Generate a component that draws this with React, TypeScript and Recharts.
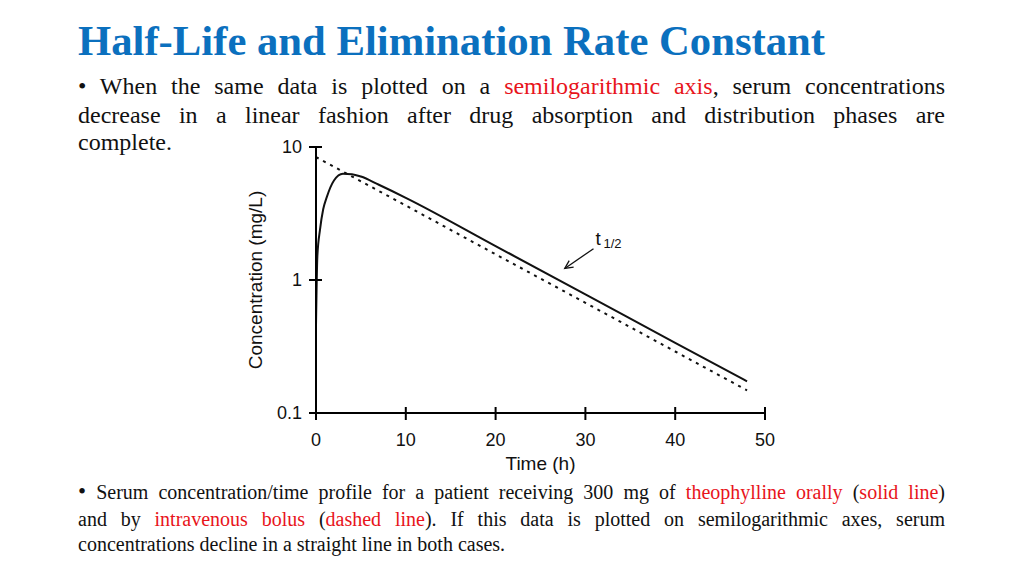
import { Line, LineChart, ReferenceLine, XAxis, YAxis } from "recharts"

// oral dose (solid line)
const oralTime = [0, 0.15, 0.45, 0.8, 1.2, 2, 3, 4, 5, 7, 10, 20, 30, 40, 48]
const oralConc = [0.45, 1.5, 2.4, 3.4, 4.2, 5.6, 6.3, 6.25, 6.0, 5.2, 4.15, 1.8, 0.78, 0.337, 0.173]

// iv bolus (dashed line)
const ivTime = [0, 10, 20, 30, 40, 48]
const ivConc = [8.4, 3.63, 1.56, 0.674, 0.29, 0.148]

const timeTicks = [0, 10, 20, 30, 40, 50]
const concTicks = [0.1, 1, 10]

// t1/2 arrow: tail -> tip, in data units
const arrowTail = { x: 30.9, y: 1.72 }
const arrowTip = { x: 27.7, y: 1.22 }

const oralData = oralTime.map((t, i) => ({ t, c: oralConc[i] }))
const ivData = ivTime.map((t, i) => ({ t, c: ivConc[i] }))

const SANS = "'Liberation Sans', Arial, Helvetica, sans-serif"
const SERIF = "'Liberation Serif', 'Times New Roman', serif"
const RED = "#E8141B"

const YTick = ({ x, y, payload }: any) => (
  <g>
    <line x1={x - 7} x2={x + 6} y1={y} y2={y} stroke="#000" strokeWidth={2} />
    <text x={x - 14} y={y} dy="0.36em" textAnchor="end" fontSize={18} fontFamily={SANS} fill="#111">
      {payload.value}
    </text>
  </g>
)

const XTick = ({ x, y, payload }: any) => (
  <g>
    <line x1={x} x2={x} y1={y - 6} y2={y + 7} stroke="#000" strokeWidth={2} />
    <text x={x} y={y + 27} dy="0.36em" textAnchor="middle" fontSize={18} fontFamily={SANS} fill="#111">
      {payload.value}
    </text>
  </g>
)

const Arrow = (props: any) => {
  const { x1, y1, x2, y2 } = props
  const a = Math.atan2(y2 - y1, x2 - x1)
  const len = 9
  const h1 = { x: x2 - len * Math.cos(a - 0.45), y: y2 - len * Math.sin(a - 0.45) }
  const h2 = { x: x2 - len * Math.cos(a + 0.45), y: y2 - len * Math.sin(a + 0.45) }
  return (
    <g>
      <line x1={x1} y1={y1} x2={x2} y2={y2} stroke="#111" strokeWidth={1.3} />
      <polyline points={`${h1.x},${h1.y} ${x2},${y2} ${h2.x},${h2.y}`} fill="none" stroke="#111" strokeWidth={1.3} />
      <text x={x1 + 2} y={y1 - 4} fontSize={19} fontFamily={SANS} fill="#111">
        t
      </text>
      <text x={x1 + 10} y={y1 - 1} fontSize={13} fontFamily={SANS} fill="#111">
        1/2
      </text>
    </g>
  )
}

const lineStyle = (top: number, size: number, lh: number, last = false): React.CSSProperties => ({
  position: "absolute",
  left: 78,
  top,
  width: 867,
  fontSize: size,
  lineHeight: `${lh}px`,
  whiteSpace: "nowrap",
  textAlign: last ? "left" : "justify",
  textAlignLast: last ? "left" : "justify",
})

export default function App() {
  return (
    <div
      style={{
        position: "absolute",
        left: 0,
        top: 0,
        width: 1024,
        height: 576,
        background: "#fff",
        overflow: "hidden",
        fontFamily: SERIF,
        color: "#111",
      }}
    >
      <div
        style={{
          position: "absolute",
          left: 78,
          top: 20,
          fontSize: 42.7,
          lineHeight: "42px",
          fontWeight: "bold",
          color: "#0B70BE",
          whiteSpace: "nowrap",
        }}
      >
        Half-Life and Elimination Rate Constant
      </div>

      <div style={lineStyle(72, 24, 29)}>
        • When the same data is plotted on a <span style={{ color: RED }}>semilogarithmic axis</span>, serum
        concentrations
      </div>
      <div style={lineStyle(101, 24, 29)}>
        decrease in a linear fashion after drug absorption and distribution phases are
      </div>
      <div style={lineStyle(128, 24, 29, true)}>complete.</div>

      <div style={{ position: "absolute", left: 200, top: 130 }}>
        <LineChart width={600} height={350} margin={{ top: 17, right: 35, left: 56, bottom: 37 }}>
          <XAxis
            type="number"
            dataKey="t"
            domain={[0, 50]}
            ticks={timeTicks}
            interval={0}
            height={30}
            tickSize={0}
            tickMargin={0}
            tickLine={false}
            axisLine={{ stroke: "#000", strokeWidth: 2 }}
            tick={<XTick />}
            label={{
              content: ({ viewBox }: any) => (
                <text
                  x={viewBox.x + viewBox.width / 2}
                  y={viewBox.y + 50}
                  dy="0.36em"
                  textAnchor="middle"
                  fontSize={19}
                  fontFamily={SANS}
                  fill="#111"
                >
                  Time (h)
                </text>
              ),
            }}
          />
          <YAxis
            type="number"
            scale="log"
            domain={[0.1, 10]}
            allowDataOverflow
            ticks={concTicks}
            interval={0}
            width={60}
            tickSize={0}
            tickMargin={0}
            tickLine={false}
            axisLine={{ stroke: "#000", strokeWidth: 2 }}
            tick={<YTick />}
            label={{
              content: ({ viewBox }: any) => {
                const cx = viewBox.x + viewBox.width - 61
                const cy = viewBox.y + viewBox.height / 2
                return (
                  <text
                    x={cx}
                    y={cy}
                    dy="0.36em"
                    textAnchor="middle"
                    fontSize={19}
                    fontFamily={SANS}
                    fill="#111"
                    transform={`rotate(-90 ${cx} ${cy})`}
                  >
                    Concentration (mg/L)
                  </text>
                )
              },
            }}
          />
          <Line
            data={ivData}
            dataKey="c"
            type="linear"
            stroke="#111"
            strokeWidth={2}
            strokeDasharray="3 5"
            dot={false}
            isAnimationActive={false}
          />
          <Line
            data={oralData}
            dataKey="c"
            type="monotoneX"
            stroke="#111"
            strokeWidth={2}
            dot={false}
            isAnimationActive={false}
          />
          <ReferenceLine segment={[arrowTail, arrowTip]} shape={<Arrow />} />
        </LineChart>
      </div>

      <div style={lineStyle(479, 20, 26)}>
        <span style={{ fontSize: 23 }}>•</span> Serum concentration/time profile for a patient receiving 300 mg of{" "}
        <span style={{ color: RED }}>theophylline orally</span> (<span style={{ color: RED }}>solid line</span>)
      </div>
      <div style={lineStyle(506, 20, 26)}>
        and by <span style={{ color: RED }}>intravenous bolus</span> (<span style={{ color: RED }}>dashed line</span>).
        If this data is plotted on semilogarithmic axes, serum
      </div>
      <div style={lineStyle(531, 20, 26, true)}>concentrations decline in a straight line in both cases.</div>
    </div>
  )
}
